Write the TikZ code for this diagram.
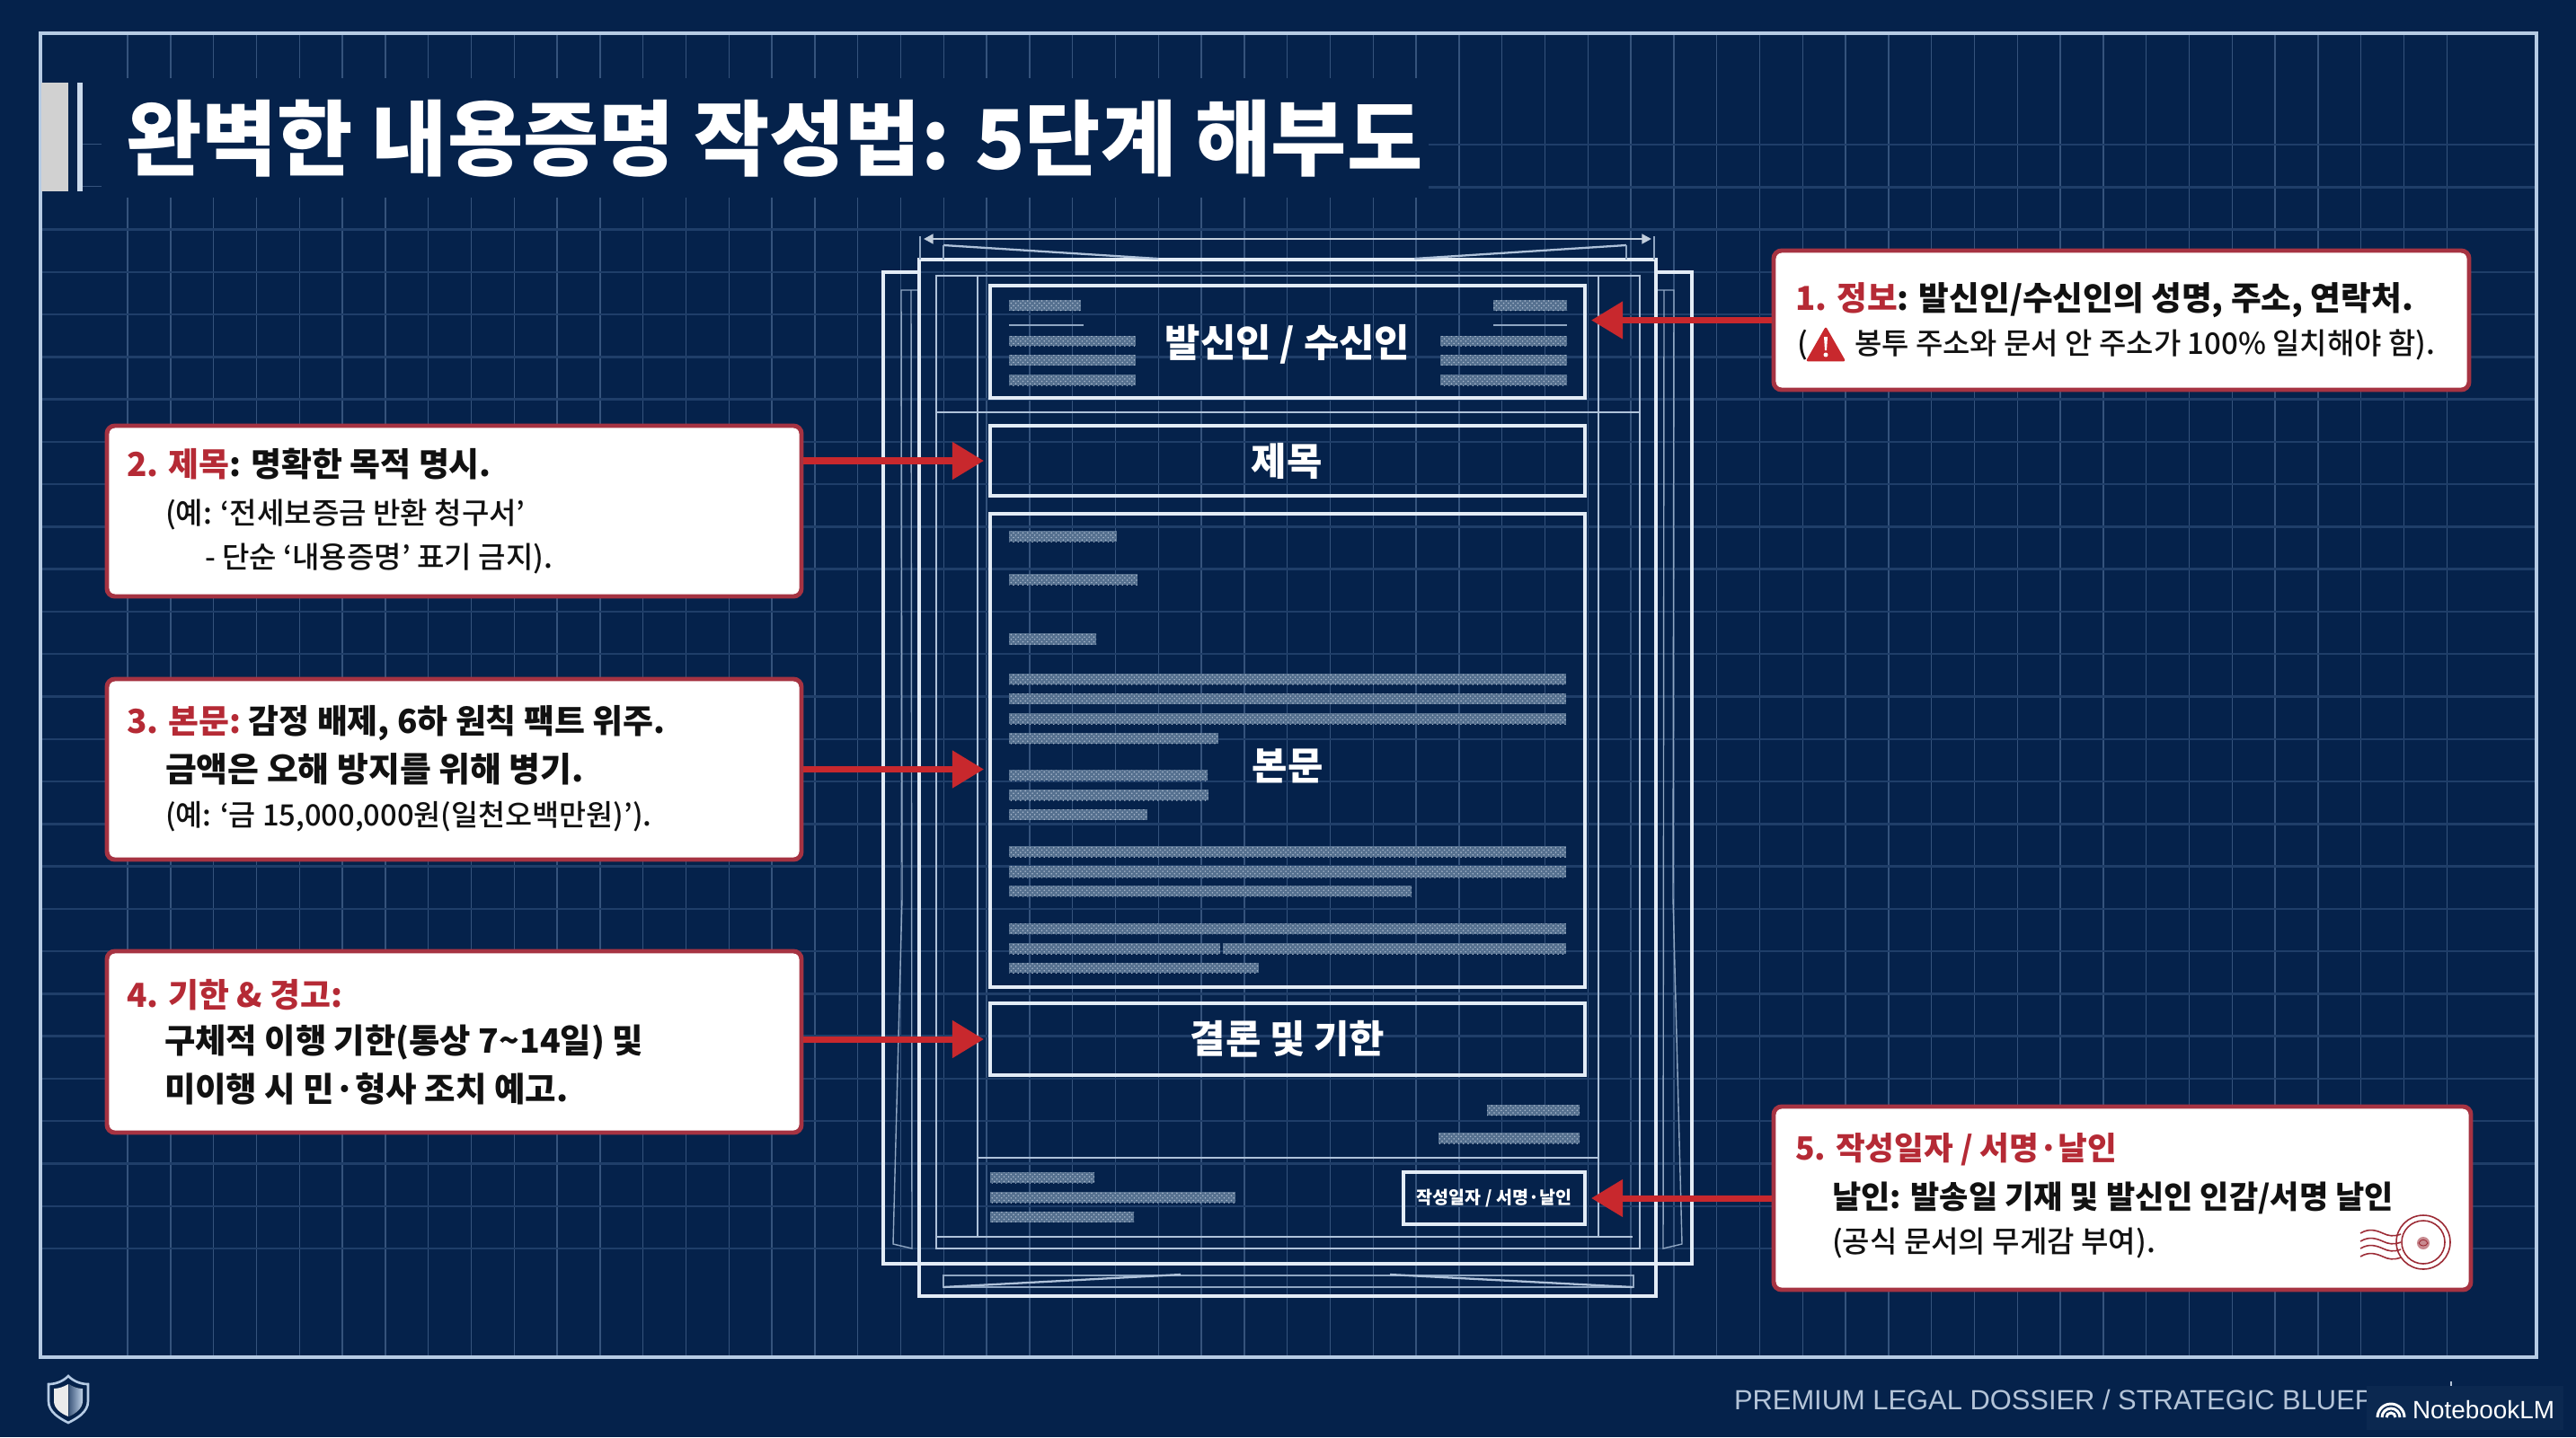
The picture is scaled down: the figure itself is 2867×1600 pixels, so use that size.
\documentclass[tikz,border=0pt]{standalone}
\usepackage{fontspec}
\usetikzlibrary{arrows.meta,patterns}
\setmainfont{Noto Sans CJK KR}
\newfontfamily\medfont{Noto Sans CJK KR Medium}
\newfontfamily\latfont{Liberation Sans}
\definecolor{bgblue}{HTML}{05224B}
\definecolor{framec}{HTML}{B6CBE4}
\definecolor{gridv}{HTML}{35537C}
\definecolor{gridh}{HTML}{1F3E69}
\definecolor{pagec}{HTML}{E3ECF6}
\definecolor{innerc}{HTML}{AFC2DA}
\definecolor{thinc}{HTML}{8FA6C2}
\definecolor{barc}{HTML}{55708F}
\definecolor{bardot}{HTML}{A8B8CC}
\definecolor{redarrow}{HTML}{C8282D}
\definecolor{redline}{HTML}{A63342}
\definecolor{redtext}{HTML}{B52A35}
\definecolor{inkc}{HTML}{111111}
\definecolor{footc}{HTML}{B4C4D8}
\definecolor{markbg}{HTML}{0B2850}
\definecolor{stampc}{HTML}{9C2B35}
\newcommand{\tline}[6]{%
  \pgfmathsetmacro\fs{#5*0.56693}%
  \node[anchor=#2,inner sep=0pt,outer sep=0pt] (#1) at (#3,{#4+0.36*#5}) {\fontsize{\fs pt}{\fs pt}\selectfont #6};}
\newcommand{\boxnode}[7]{%
  \pgfmathsetmacro\bw{(#4-#2)*0.02}%
  \pgfmathsetmacro\bh{(#5-#3)*0.02}%
  \node[#6,minimum width=\bw cm,minimum height=\bh cm,inner sep=0pt] (#1) at ({(#2+#4)/2},{(#3+#5)/2}) {#7};}
\tikzset{
  docbox/.style={draw=pagec,line width=2pt},
  callout/.style={draw=redline,fill=white,line width=2.8pt,rounded corners=5pt},
  redarr/.style={draw=redarrow,line width=4pt,-{Triangle[length=20pt,width=23pt]}},
  pagelines/.style={draw=pagec,line width=1.8pt},
  innerlines/.style={draw=innerc,line width=1.3pt},
  thinlines/.style={draw=thinc,line width=0.8pt},
  stampline/.style={draw=stampc,line width=0.9pt}
}
\begin{document}
\begin{tikzpicture}[x=0.02cm,y=-0.02cm]
\useasboundingbox (0,0) rectangle (2867,1600);
\fill[bgblue] (0,0) rectangle (2867,1600);
% grid
\foreach \k in {0,...,54} \draw[gridv,line width=0.8pt] ({142+47.8*\k},37) -- ({142+47.8*\k},1511);
\foreach \k in {0,...,26} \draw[gridh,line width=1.4pt] (46,{161+47.27*\k}) -- (2822,{161+47.27*\k});
% title band
\fill[bgblue] (46,87) rectangle (1590,220);
\fill[gridv] (92,159.5) rectangle (113,161);
\fill[gridv] (92,206.5) rectangle (113,208);
\draw[framec,line width=2.2pt] (45,37) rectangle (2823,1511);
\fill[black!18!white] (46,92) rectangle (76,213);
\fill[framec!70!white] (86,92) rectangle (92,213);
\tline{title}{base west}{140}{155}{92}{\bfseries\color{white}완벽한 내용증명 작성법: 5단계 해부도}
% document sheets
\draw[pagelines] (1023,303) -- (983,303) -- (983,1407) -- (1883,1407) -- (1883,303) -- (1843,303);
\draw[thinlines] (1023,323) -- (1003,323) -- (1004,1000) -- (994,1385) -- (1015,1390) -- (1014,323);
\draw[thinlines] (1843,323) -- (1863,323) -- (1862,1000) -- (1872,1385) -- (1851,1390) -- (1852,323);
\draw[pagelines,line width=2pt] (1023,289) rectangle (1843,1443);
\draw[innerlines] (1042,307) rectangle (1825,1390);
\draw[innerlines] (1042,459) -- (1825,459);
\draw[innerlines] (1088,307) -- (1088,1377);
\draw[innerlines] (1779,307) -- (1779,1377);
\draw[innerlines] (1088,1289) -- (1779,1289);
\draw[innerlines] (1042,1377) -- (1817,1377);
% dimension marks
\coordinate (dimL) at (1028,266);
\coordinate (dimR) at (1838,266);
\draw[draw=pagec!85!bgblue,line width=1.6pt,{Triangle[length=6pt,width=6pt]}-{Triangle[length=6pt,width=6pt]}] (dimL) -- (dimR);
\draw[thinlines] (1024,263) -- (1024,289);
\draw[thinlines] (1841,263) -- (1841,289);
\draw[innerlines] (1050,273) -- (1289,288);
\draw[innerlines] (1810,273) -- (1574,288);
\draw[thinlines] (1050,273) -- (1050,289);
\draw[thinlines] (1810,273) -- (1810,289);
\draw[thinlines] (1050,1420) rectangle (1818,1433);
\draw[innerlines] (1050,1433) -- (1314,1419);
\draw[innerlines] (1547,1419) -- (1817,1433);
% placeholder bars
\foreach \a/\b/\c/\d in {
 1123/334/1203/346, 1603/374/1744/385, 1603/395/1744/407, 1603/417/1744/429, 1662/334/1744/346,
 1123/374/1264/385, 1123/395/1264/407, 1123/417/1264/429,
 1123/591/1243/603, 1123/639/1266/651, 1123/705/1220/718,
 1123/750/1743/762, 1123/772/1743/784, 1123/794/1743/806, 1123/816/1356/828,
 1123/857/1344/869, 1123/879/1345/891, 1123/901/1277/913,
 1123/942/1743/954, 1123/964/1743/977, 1123/986/1571/998,
 1123/1028/1743/1040, 1123/1050/1358/1062, 1361/1050/1743/1062, 1123/1072/1401/1083,
 1655/1230/1758/1242, 1601/1261/1758/1273,
 1102/1305/1218/1317, 1102/1327/1375/1339, 1102/1349/1262/1361}
{
  \fill[barc] (\a,\b) rectangle (\c,\d);
  \fill[pattern=crosshatch dots,pattern color=bardot] (\a,\b) rectangle (\c,\d);
}
\draw[thinlines,line width=1.2pt] (1123,362) -- (1206,362);
\draw[thinlines,line width=1.2pt] (1662,362) -- (1744,362);
% document sections
\boxnode{sender}{1102}{318}{1764}{443}{docbox}{}
\boxnode{subject}{1102}{474}{1764}{552}{docbox}{}
\boxnode{bodybox}{1102}{572}{1764}{1099}{docbox}{}
\boxnode{concl}{1102}{1117}{1764}{1197}{docbox}{}
\boxnode{sign}{1562}{1305}{1764}{1363}{docbox}{}
\tline{senderlabel}{base}{1433}{382}{43}{\bfseries\color{white}발신인 / 수신인}
\tline{subjectlabel}{base}{1432}{514}{43}{\bfseries\color{white}제목}
\tline{bodylabel}{base}{1433}{853}{43}{\bfseries\color{white}본문}
\tline{concllabel}{base}{1433}{1157}{43}{\bfseries\color{white}결론 및 기한}
\tline{signlabel}{base}{1663}{1333}{19.6}{\bfseries\color{white}작성일자 / 서명·날인}
% callouts
\boxnode{c1}{1974}{279}{2748}{434}{callout}{}
\boxnode{c2}{119}{474}{892}{664}{callout}{}
\boxnode{c3}{119}{756}{892}{957}{callout}{}
\boxnode{c4}{119}{1059}{892}{1261}{callout}{}
\boxnode{c5}{1974}{1232}{2750}{1436}{callout}{}
% arrows
\draw[redarr,shorten >=3pt] (c1.west) -- (sender.east |- c1.west);
\draw[redarr,shorten >=3pt] (c2.east |- subject.west) -- (subject.west);
\draw[redarr,shorten >=3pt] (c3.east) -- (bodybox.west |- c3.east);
\draw[redarr,shorten >=3pt] (c4.east |- concl.west) -- (concl.west);
\draw[redarr,shorten >=3pt] (c5.west) -- (sign.east |- c5.west);
% callout text
\tline{t1a}{base west}{1998}{332}{36.8}{\bfseries\textcolor{redtext}{1. 정보}\textcolor{inkc}{: 발신인/수신인의 성명, 주소, 연락처.}}
\tline{t1b}{base west}{2000}{383}{33.3}{\medfont\textcolor{inkc}{(}}
\fill[redarrow,draw=redarrow,line width=1.5pt,line join=round] (2032,366) -- (2012,401) -- (2052,401) -- cycle;
\fill[white] (2030,375) -- (2034,375) -- (2033,390) -- (2031,390) -- cycle;
\fill[white] (2032,395) circle (2.5);
\tline{t1c}{base west}{2064}{383}{33.1}{\medfont\textcolor{inkc}{봉투 주소와 문서 안 주소가 100\% 일치해야 함).}}
\tline{t2a}{base west}{141}{517}{37}{\bfseries\textcolor{redtext}{2. 제목}\textcolor{inkc}{: 명확한 목적 명시.}}
\tline{t2b}{base west}{184}{572}{33.2}{\medfont\textcolor{inkc}{(예: ‘전세보증금 반환 청구서’}}
\tline{t2c}{base west}{228}{621}{33.2}{\medfont\textcolor{inkc}{- 단순 ‘내용증명’ 표기 금지).}}
\tline{t3a}{base west}{141}{803}{37}{\bfseries\textcolor{redtext}{3. 본문:}\ \textcolor{inkc}{감정 배제, 6하 원칙 팩트 위주.}}
\tline{t3b}{base west}{184}{857}{38}{\bfseries\textcolor{inkc}{금액은 오해 방지를 위해 병기.}}
\tline{t3c}{base west}{184}{908}{32.8}{\medfont\textcolor{inkc}{(예: ‘금 15,000,000원(일천오백만원)’).}}
\tline{t4a}{base west}{141}{1108}{37}{\bfseries\textcolor{redtext}{4. 기한 \& 경고:}}
\tline{t4b}{base west}{183}{1159}{37.5}{\bfseries\textcolor{inkc}{구체적 이행 기한(통상 7\textasciitilde14일) 및}}
\tline{t4c}{base west}{183}{1213}{37.6}{\bfseries\textcolor{inkc}{미이행 시 민·형사 조치 예고.}}
\tline{t5a}{base west}{1998}{1279}{35.7}{\bfseries\textcolor{redtext}{5. 작성일자 / 서명·날인}}
\tline{t5b}{base west}{2039}{1333}{35.2}{\bfseries\textcolor{inkc}{날인: 발송일 기재 및 발신인 인감/서명 날인}}
\tline{t5c}{base west}{2039}{1383}{33.2}{\medfont\textcolor{inkc}{(공식 문서의 무게감 부여).}}
% stamp
\draw[stampline] (2697,1383) circle (30);
\draw[stampline] (2697,1383) circle (24);
\fill[stampc!55!white] (2697,1384) circle (7);
\draw[stampline,line width=0.5pt] (2692,1384) .. controls (2694,1379) and (2700,1379) .. (2702,1384) .. controls (2700,1388) and (2694,1388) .. (2692,1384);
\foreach \v in {1373,1382,1390,1399}
  \draw[stampline] (2627,\v) .. controls (2637,{\v-6}) and (2645,{\v-3}) .. (2652,\v) .. controls (2658,{\v+3}) and (2664,{\v+4}) .. (2672,{\v+1});
% footer
\tline{foot}{base west}{1930}{1558}{31}{\latfont\color{footc}PREMIUM LEGAL DOSSIER / STRATEGIC BLUEP}
\fill[markbg] (2634,1543) rectangle (2853,1592);
\draw[footc,line width=0.8pt] (2728,1538) -- (2728,1543);
\tline{mark}{base west}{2685}{1569}{28}{\latfont\color{white}NotebookLM}
\foreach \r in {15,10,5}
  \draw[white,line width=1.7pt] ({2661-\r},1578) arc[start angle=180,end angle=360,x radius=\r,y radius=\r];
% shield
\draw[framec,line width=1.5pt,fill=bgblue] (76,1532) .. controls (82,1538) and (90,1541) .. (98,1541) -- (98,1560) .. controls (98,1572) and (86,1579) .. (76,1584) .. controls (66,1579) and (54,1572) .. (54,1560) -- (54,1541) .. controls (62,1541) and (70,1538) .. (76,1532) -- cycle;
\fill[black!8!white] (76,1541) .. controls (71,1544) and (65,1546) .. (60,1546) -- (60,1560) .. controls (60,1568) and (68,1574) .. (76,1577) -- cycle;
\fill[left color=framec!35!bgblue,right color=framec!90!white] (77,1541) .. controls (81,1544) and (87,1546) .. (92,1546) -- (92,1560) .. controls (92,1568) and (84,1574) .. (77,1577) -- cycle;
\end{tikzpicture}
\end{document}
